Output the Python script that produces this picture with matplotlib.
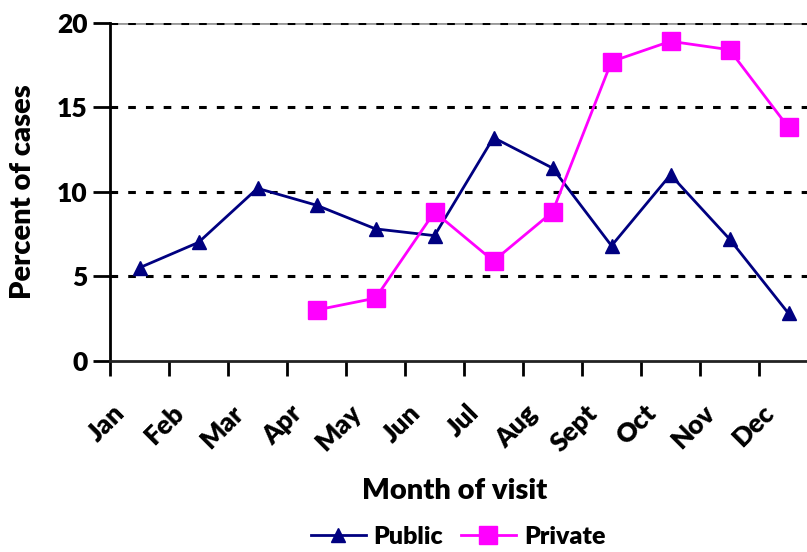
import matplotlib
matplotlib.use("Agg")
import matplotlib.pyplot as plt
import matplotlib.transforms as mtransforms
import numpy as np

months = ["Jan", "Feb", "Mar", "Apr", "May", "Jun", "Jul", "Aug", "Sept", "Oct", "Nov", "Dec"]
public = [5.5, 7.0, 10.2, 9.2, 7.8, 7.4, 13.2, 11.4, 6.8, 11.0, 7.2, 2.8]
private = [None, None, None, 3.0, 3.7, 8.8, 5.9, 8.8, 17.7, 18.9, 18.4, 13.8]
y_ticks = [0, 5, 10, 15, 20]

WEIGHT = 'heavy'
plt.rcParams['font.family'] = ['Lato', 'DejaVu Sans']
plt.rcParams['font.weight'] = WEIGHT

W, H = 807, 552
fig = plt.figure(figsize=(W / 100, H / 100), dpi=100)
ax = fig.add_axes([110 / W, 1 - 360.7 / H, 708 / W, (360.7 - 22.7) / H])

x = np.arange(len(months))
priv = np.array([np.nan if v is None else v for v in private], dtype=float)

# horizontal reference lines
for yv in y_ticks[1:]:
    ax.axhline(yv, color='black', lw=2.2, dashes=(2.5, 3.3), zorder=1)
ax.axhline(20, color='#999999', lw=2.0, zorder=0.5)

ax.plot(x, public, color='#000080', lw=2.0, marker='^', markersize=10.5,
        markerfacecolor='#000080', markeredgecolor='#000080', label='Public', zorder=3)
ax.plot(x, priv, color='#FF00FF', lw=2.0, marker='s', markersize=13,
        markerfacecolor='#FF00FF', markeredgecolor='#FF00FF', label='Private', zorder=3)

ax.set_xlim(-0.5, len(months) - 0.5)
ax.set_ylim(0, 20)
ax.set_yticks(y_ticks)
ax.set_yticklabels([str(v) for v in y_ticks], fontsize=19, fontweight=WEIGHT)

# category boundaries carry the tick marks; month names sit between them
ax.set_xticks(np.arange(len(months) + 1) - 0.5)
ax.set_xticklabels([])
label_offset = mtransforms.ScaledTranslation(-27 / 100, -40 / 100, fig.dpi_scale_trans)
for i, m in enumerate(months):
    ax.text(i, 0, m, transform=ax.get_xaxis_transform() + label_offset,
            rotation=45, ha='right', va='top', rotation_mode='anchor',
            fontsize=19, fontweight=WEIGHT, clip_on=False)
ax.tick_params(axis='x', which='major', length=11, width=2, direction='out')
ax.tick_params(axis='y', length=12, width=2, direction='out', pad=4)

for s in ['top', 'right']:
    ax.spines[s].set_visible(False)
ax.spines['left'].set_linewidth(2)
ax.spines['bottom'].set_linewidth(2)
ax.spines['bottom'].set_color('#222222')

ax.set_ylabel('Percent of cases', fontsize=21, fontweight=WEIGHT)
ax.yaxis.set_label_coords((36 - 110) / 708, 0.5)
ax.set_xlabel('Month of visit', fontsize=21, fontweight=WEIGHT)
ax.xaxis.set_label_coords((455 - 110) / 708, (360.7 - 478) / 338)

fig.legend(loc='center', bbox_to_anchor=(458 / W, 1 - 537 / H), ncol=2, frameon=False,
           prop={'size': 18, 'weight': WEIGHT}, handlelength=2.2, columnspacing=0.7,
           handletextpad=0.32)

fig.savefig('out.png', dpi=100)
